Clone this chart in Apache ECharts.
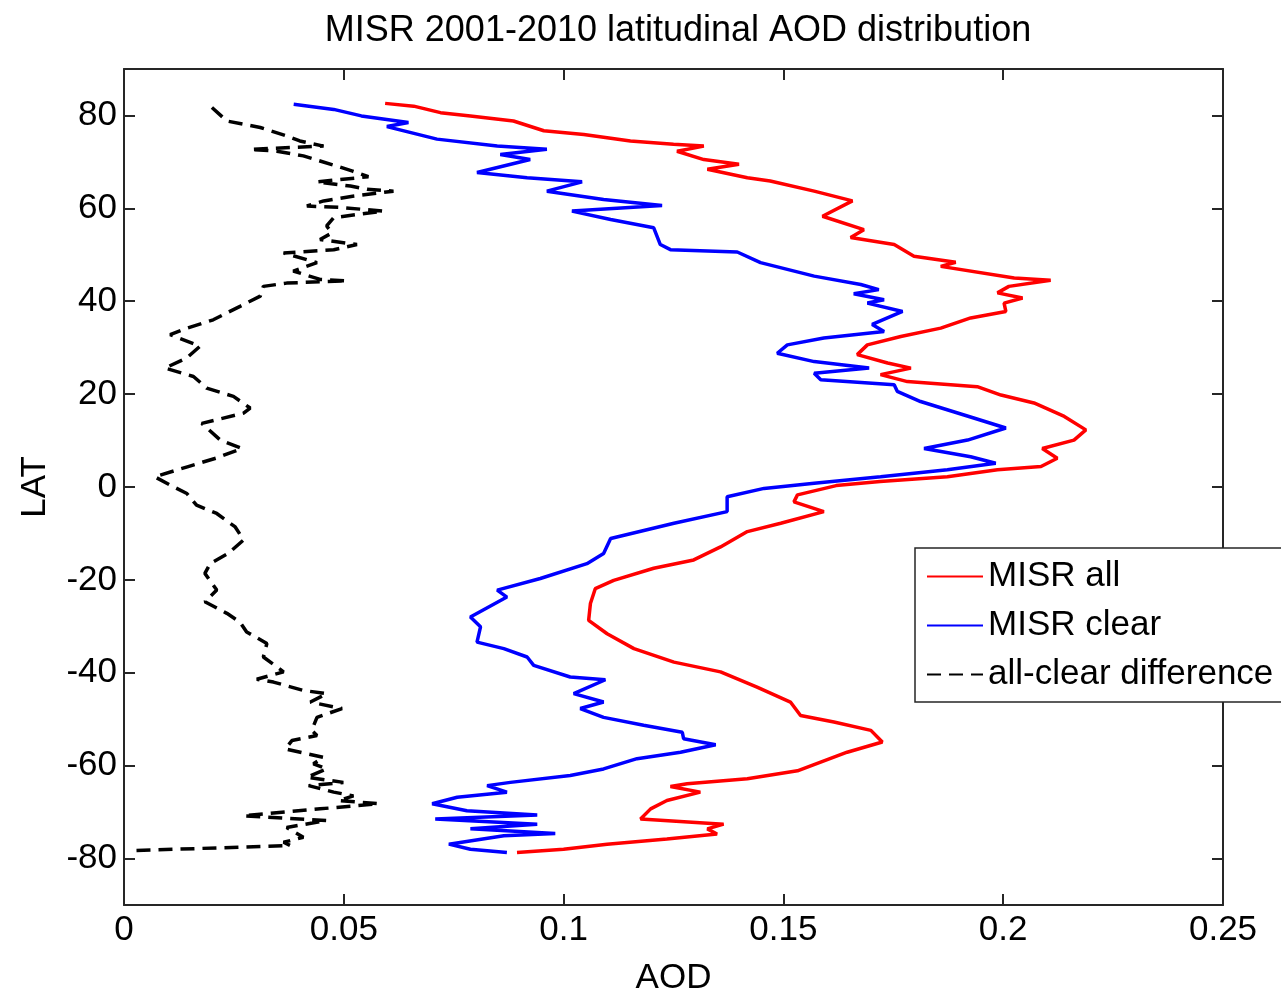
<!DOCTYPE html>
<html>
<head>
<meta charset="utf-8">
<title>MISR 2001-2010 latitudinal AOD distribution</title>
<script src="https://cdn.jsdelivr.net/npm/echarts@6/dist/echarts.min.js"></script>
<style>
  html, body { margin: 0; padding: 0; background: #fff; }
  #chart { width: 1281px; height: 993px; }
</style>
</head>
<body>
<div id="chart"></div>
<script>
// Zonal-mean aerosol optical depth profiles, north to south.
const latAll = [82.6, 82.0, 80.6, 79.9, 78.8, 76.7, 75.9, 74.5, 73.8, 73.4, 72.3, 70.5, 69.5, 68.4, 66.6, 65.9,
  63.7, 61.6, 58.3, 55.4, 53.7, 52.2, 49.7, 48.4, 47.5, 45.0, 44.5, 43.2, 41.8, 40.7, 39.6, 37.8, 36.4, 34.2,
  32.4, 30.6, 28.5, 26.7, 25.6, 24.2, 22.7, 21.6, 19.8, 18.1, 15.2, 12.3, 10.1, 8.3, 6.2, 4.4, 3.7, 2.2, 1.2,
  0.3, -1.7, -3.2, -5.3, -7.8, -9.6, -12.9, -15.7, -17.5, -20.1, -21.9, -25.1, -28.7, -31.6, -34.8, -37.7,
  -39.8, -43.1, -46.3, -49.2, -50.6, -52.4, -54.9, -57.1, -61.1, -62.8, -63.9, -64.5, -65.7, -67.5, -69.3,
  -71.5, -72.6, -73.6, -74.7, -75.8, -76.9, -78.0, -78.7];
const aodAll = [0.0594, 0.0659, 0.072, 0.0788, 0.0886, 0.0955, 0.1046, 0.1152, 0.125, 0.1319, 0.1258, 0.1319,
  0.1399, 0.1327, 0.1418, 0.147, 0.157, 0.1657, 0.1589, 0.1683, 0.1653, 0.1752, 0.1797, 0.1892, 0.1858, 0.2025,
  0.2108, 0.2013, 0.1987, 0.2044, 0.2002, 0.2006, 0.1926, 0.1858, 0.1767, 0.1691, 0.1668, 0.1737, 0.179, 0.1721,
  0.1782, 0.1941, 0.1995, 0.207, 0.2139, 0.2188, 0.2161, 0.2089, 0.2123, 0.2086, 0.1987, 0.1873, 0.172, 0.162,
  0.1532, 0.1524, 0.1592, 0.1494, 0.1418, 0.1357, 0.1296, 0.1205, 0.1114, 0.1072, 0.1061, 0.1057, 0.1099, 0.116,
  0.1251, 0.1357, 0.144, 0.1516, 0.1539, 0.1615, 0.1699, 0.1725, 0.1645, 0.1532, 0.1418, 0.1281, 0.1243, 0.1311,
  0.1235, 0.1198, 0.1175, 0.1364, 0.1327, 0.1349, 0.1235, 0.1099, 0.1, 0.0894];

const latClear = [82.4, 81.3, 79.9, 78.5, 77.6, 74.9, 73.4, 72.7, 71.6, 70.5, 67.7, 66.6, 65.7, 63.7, 61.9, 60.6,
  59.4, 57.6, 55.8, 52.2, 51.1, 50.6, 48.3, 45.4, 43.6, 42.5, 41.6, 40.3, 39.6, 37.8, 35.0, 33.5, 32.1, 30.6,
  28.8, 27.0, 25.6, 24.5, 23.1, 22.0, 20.6, 18.4, 15.5, 12.7, 10.1, 8.3, 6.5, 5.1, 3.7, 2.2, 0.8, -0.3, -2.1,
  -5.3, -7.8, -11.1, -14.3, -16.5, -19.7, -22.2, -23.7, -28.0, -30.1, -33.4, -34.8, -36.6, -38.4, -40.9, -41.5,
  -44.5, -46.3, -47.7, -49.6, -51.3, -52.8, -54.2, -55.5, -57.1, -58.5, -60.7, -62.1, -63.6, -64.3, -65.7,
  -66.8, -68.2, -69.7, -70.6, -71.5, -72.6, -73.6, -74.6, -75.1, -76.9, -78.0, -78.7];
const aodClear = [0.0386, 0.0477, 0.054, 0.0647, 0.0598, 0.0712, 0.0849, 0.0962, 0.0856, 0.0924, 0.0803, 0.0917,
  0.1042, 0.0962, 0.1091, 0.1224, 0.1019, 0.1107, 0.1205, 0.122, 0.1243, 0.1395, 0.1448, 0.157, 0.1676, 0.1717,
  0.166, 0.1729, 0.1691, 0.1771, 0.1702, 0.1729, 0.1592, 0.1509, 0.1486, 0.157, 0.1695, 0.157, 0.1585, 0.1752,
  0.1759, 0.1812, 0.1911, 0.2006, 0.1919, 0.182, 0.1926, 0.1983, 0.1873, 0.1721, 0.157, 0.1456, 0.1372, 0.1372,
  0.1251, 0.1107, 0.1091, 0.1053, 0.0947, 0.0849, 0.0871, 0.0788, 0.0811, 0.0803, 0.0864, 0.0917, 0.0932, 0.1015,
  0.1095, 0.1023, 0.1091, 0.1038, 0.1091, 0.1182, 0.127, 0.1273, 0.1346, 0.1266, 0.1167, 0.1091, 0.1015, 0.0879,
  0.0826, 0.0871, 0.0758, 0.0701, 0.078, 0.094, 0.0708, 0.094, 0.0788, 0.0981, 0.0864, 0.0739, 0.0788, 0.0871];

const latDiff = [81.7, 78.8, 77.4, 75.6, 74.5, 73.4, 72.7, 72.3, 71.3, 70.2, 69.1, 68.0, 66.8, 65.7, 64.8, 64.1,
  63.7, 62.6, 61.6, 60.5, 60.2, 59.4, 58.0, 56.2, 54.7, 53.3, 52.2, 51.1, 50.4, 48.3, 46.5, 44.7, 44.4, 43.9,
  43.2, 41.1, 38.9, 36.0, 34.2, 32.8, 30.3, 27.8, 25.6, 23.8, 21.3, 19.5, 17.0, 15.9, 13.7, 10.1, 8.3, 6.2, 4.4,
  2.2, 0.4, -1.4, -3.9, -5.7, -8.6, -11.4, -14.3, -16.5, -18.6, -22.2, -24.7, -27.2, -29.1, -31.2, -33.7, -36.6,
  -39.8, -41.4, -42.0, -43.8, -44.5, -46.3, -47.7, -49.6, -52.4, -53.5, -54.6, -56.4, -58.2, -59.6, -60.7,
  -62.5, -63.6, -64.3, -65.7, -66.5, -67.5, -68.2, -69.3, -70.8, -71.8, -73.3, -75.4, -76.5, -77.2, -78.3];
const aodDiff = [0.02, 0.0234, 0.031, 0.037, 0.04, 0.0454, 0.0287, 0.0348, 0.0408, 0.0446, 0.0484, 0.052, 0.0556,
  0.0439, 0.0515, 0.0553, 0.0613, 0.052, 0.0454, 0.0416, 0.0492, 0.059, 0.0477, 0.0461, 0.0473, 0.0446, 0.053,
  0.0477, 0.0363, 0.0439, 0.0385, 0.0446, 0.0507, 0.037, 0.0317, 0.031, 0.0264, 0.0203, 0.0143, 0.0105, 0.0173,
  0.0143, 0.0093, 0.0158, 0.0188, 0.0249, 0.0287, 0.0272, 0.0177, 0.0219, 0.0268, 0.0209, 0.0146, 0.007, 0.0105,
  0.0143, 0.0165, 0.0211, 0.0253, 0.0272, 0.0237, 0.0196, 0.0184, 0.0211, 0.0184, 0.0234, 0.0264, 0.0279, 0.0325,
  0.0317, 0.0363, 0.0302, 0.034, 0.0408, 0.0461, 0.0424, 0.0496, 0.0439, 0.0427, 0.0439, 0.0382, 0.0367, 0.0454,
  0.0431, 0.0461, 0.0416, 0.0499, 0.042, 0.0477, 0.0522, 0.0488, 0.0579, 0.0446, 0.0272, 0.0461, 0.037, 0.0408,
  0.0363, 0.0378, 0.0017];

const aodTicks = [0, 0.05, 0.1, 0.15, 0.2, 0.25];
const latTicks = [-80, -60, -40, -20, 0, 20, 40, 60, 80];

const FONT = '"Liberation Sans", Arial, Helvetica, sans-serif';
const AXIS_COLOR = '#262626';

function pairs(aod, lat) {
  return aod.map((v, i) => [v, lat[i]]);
}

function axisBase(extra) {
  return Object.assign({
    type: 'value',
    splitLine: { show: false },
    axisLine: { show: true, onZero: false, lineStyle: { color: AXIS_COLOR, width: 2 } },
    axisTick: { show: true, inside: true, length: 11, lineStyle: { color: AXIS_COLOR, width: 2 } },
    axisLabel: { show: false }
  }, extra);
}

const chart = echarts.init(document.getElementById('chart'), null, { renderer: 'canvas' });

chart.setOption({
  animation: false,
  backgroundColor: '#ffffff',
  textStyle: { fontFamily: FONT },
  title: {
    text: 'MISR 2001-2010 latitudinal AOD distribution',
    left: 673,
    top: 8,
    textAlign: 'center',
    textStyle: { fontFamily: FONT, fontSize: 36, fontWeight: 'normal', color: '#000' }
  },
  grid: { left: 124, right: 58, top: 69, bottom: 88, containLabel: false, outerBoundsMode: 'none' },
  legend: {
    orient: 'vertical',
    left: 915,
    top: 548,
    padding: [11, 30, 10, 11],
    itemGap: 14,
    itemWidth: 56,
    itemHeight: 1,
    backgroundColor: '#fff',
    borderColor: AXIS_COLOR,
    borderWidth: 1.5,
    textStyle: { fontFamily: FONT, fontSize: 35, color: '#000', lineHeight: 35 },
    data: ['MISR all', 'MISR clear', 'all-clear difference']
  },
  xAxis: [
    axisBase({
      position: 'bottom', min: 0, max: 0.25,
      name: 'AOD', nameLocation: 'middle', nameGap: 56,
      nameTextStyle: { fontFamily: FONT, fontSize: 35, color: '#000' },
      axisTick: { show: true, inside: true, length: 11, customValues: aodTicks,
        lineStyle: { color: AXIS_COLOR, width: 2 } },
      axisLabel: { show: true, customValues: aodTicks, margin: 8, fontFamily: FONT, fontSize: 35, color: '#000',
        formatter: v => String(+Number(v).toFixed(2)) }
    }),
    axisBase({
      position: 'top', min: 0, max: 0.25,
      axisTick: { show: true, inside: true, length: 11, customValues: aodTicks,
        lineStyle: { color: AXIS_COLOR, width: 2 } }
    })
  ],
  yAxis: [
    axisBase({
      position: 'left', min: -90, max: 90,
      name: 'LAT', nameLocation: 'middle', nameGap: 71,
      nameTextStyle: { fontFamily: FONT, fontSize: 35, color: '#000' },
      axisTick: { show: true, inside: true, length: 11, customValues: latTicks,
        lineStyle: { color: AXIS_COLOR, width: 2 } },
      axisLabel: { show: true, customValues: latTicks, margin: 7, fontFamily: FONT, fontSize: 35, color: '#000' }
    }),
    axisBase({
      position: 'right', min: -90, max: 90,
      axisTick: { show: true, inside: true, length: 11, customValues: latTicks,
        lineStyle: { color: AXIS_COLOR, width: 2 } }
    })
  ],
  series: [
    {
      name: 'MISR all', type: 'line', xAxisIndex: 0, yAxisIndex: 0,
      data: pairs(aodAll, latAll), symbol: 'none', showSymbol: false,
      lineStyle: { color: '#ff0000', width: 3.5 }, itemStyle: { color: '#ff0000' }
    },
    {
      name: 'MISR clear', type: 'line', xAxisIndex: 0, yAxisIndex: 0,
      data: pairs(aodClear, latClear), symbol: 'none', showSymbol: false,
      lineStyle: { color: '#0000ff', width: 3.5 }, itemStyle: { color: '#0000ff' }
    },
    {
      name: 'all-clear difference', type: 'line', xAxisIndex: 0, yAxisIndex: 0,
      data: pairs(aodDiff, latDiff), symbol: 'none', showSymbol: false,
      lineStyle: { color: '#000000', width: 3.5, type: [14, 8] }, itemStyle: { color: '#000000' }
    }
  ]
});
</script>
</body>
</html>
